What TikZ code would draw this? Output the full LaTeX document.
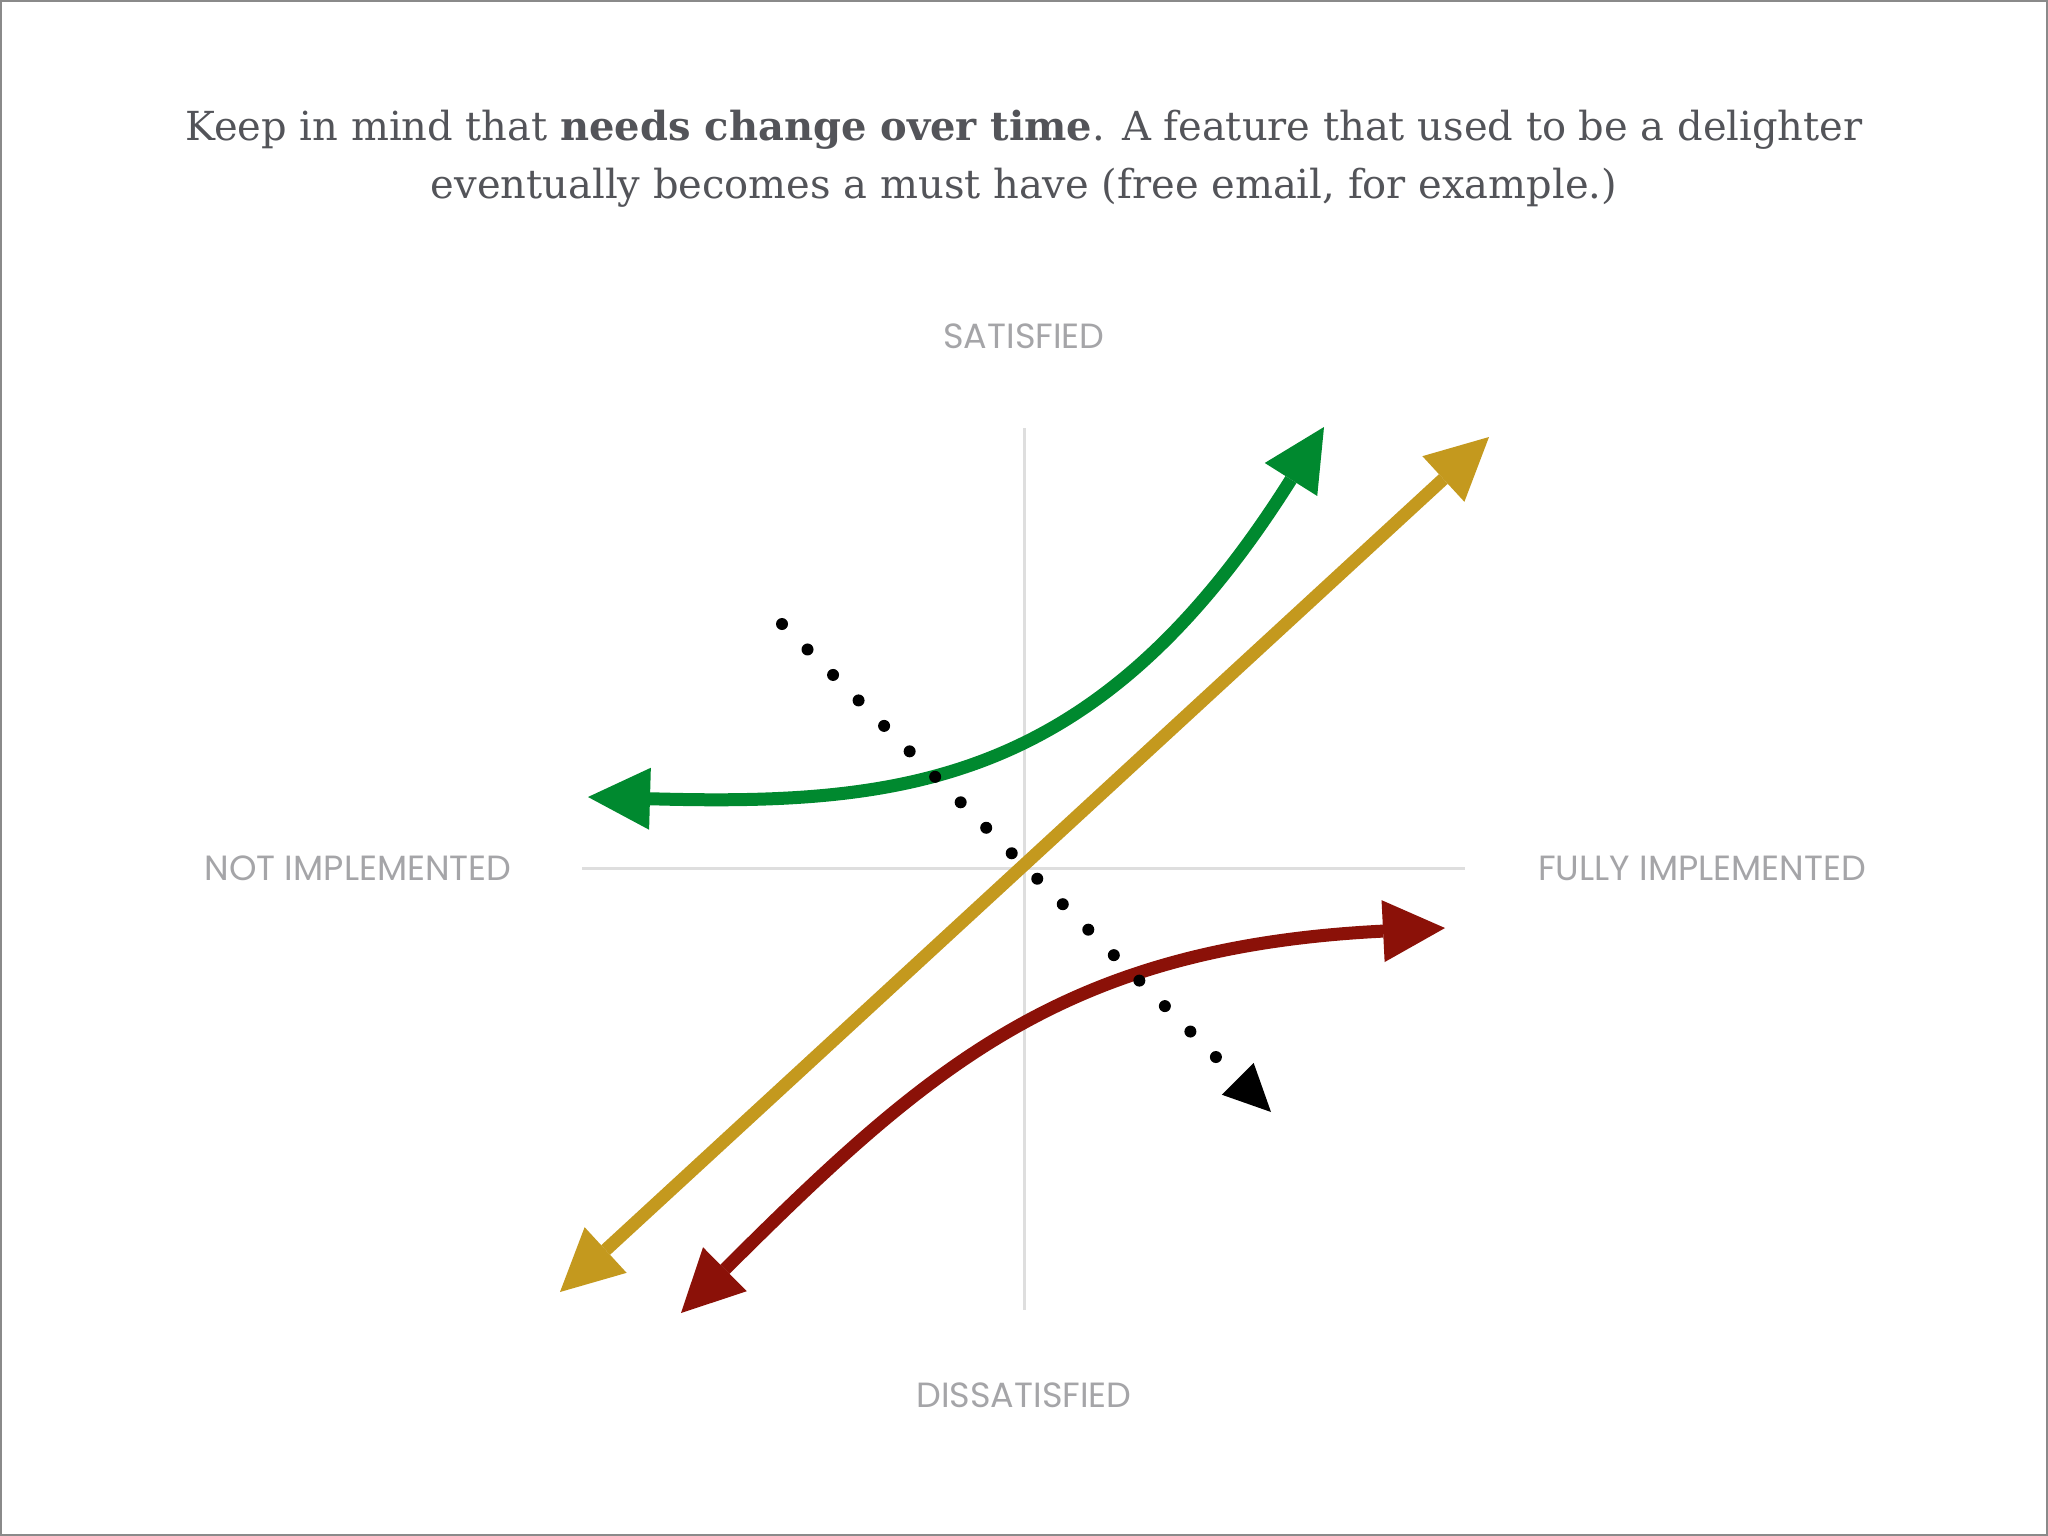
\documentclass[tikz,border=0pt]{standalone}
\usepackage{fontspec}
\usetikzlibrary{arrows.meta}
\newfontfamily\titlefont{DejaVu Serif}
\newfontfamily\labelfont{Poppins}
\definecolor{titlegray}{HTML}{535459}
\definecolor{labelgray}{HTML}{A5A5A8}
\definecolor{axisgray}{HTML}{DEDEDE}
\definecolor{framegray}{HTML}{8A8A8A}
\definecolor{kgreen}{HTML}{00892F}
\definecolor{kgold}{HTML}{C4991E}
\definecolor{kred}{HTML}{8B1108}
\tikzset{
  bighead/.tip={Triangle[length=62pt,width=62pt,line width=0pt]},
  dothead/.tip={Triangle[length=47pt,width=45pt,line width=0pt]},
}
\begin{document}
\begin{tikzpicture}[x=1pt,y=-1pt,
  axisline/.style={draw=axisgray, line width=3pt},
  axislabel/.style={font=\labelfont\fontsize{35}{40}\selectfont, text=labelgray, inner sep=0pt},
  titletext/.style={font=\titlefont\fontsize{40}{48}\selectfont, text=titlegray, inner sep=0pt, anchor=base},
  bigarrow/.style={line width=13pt, bighead-bighead},
  dotpath/.style={line width=12pt, line cap=round, dash pattern=on 0pt off 36.06pt, -dothead},
]
\useasboundingbox (0,0) rectangle (2048,1536);
\fill[white] (0,0) rectangle (2048,1536);
\draw[framegray, line width=2pt] (1,1) rectangle (2047,1535);

% title
\node[titletext] (title1) at (1024,141) {Keep in mind that \textbf{needs change over time}. A feature that used to be a delighter};
\node[titletext] (title2) at (1024,198.5) {eventually becomes a must have (free email, for example.)};

% axes
\coordinate (vtop) at (1024,428);
\coordinate (vbot) at (1024,1310);
\coordinate (hleft) at (582,868.5);
\coordinate (hright) at (1465,868.5);
\draw[axisline] (vtop) -- (vbot);
\draw[axisline] (hleft) -- (hright);

% axis labels
\node[axislabel] (sat) at (1024,336) {SATISFIED};
\node[axislabel] (dissat) at (1024,1395) {DISSATISFIED};
\node[axislabel] (notimpl) at (358,868) {NOT IMPLEMENTED};
\node[axislabel] (fullimpl) at (1702,868) {FULLY IMPLEMENTED};

% tips
\coordinate (gL) at (588,797);
\coordinate (gT) at (1324,427);
\coordinate (yL) at (560,1292);
\coordinate (yT) at (1489,437);
\coordinate (rL) at (681,1313);
\coordinate (rR) at (1445,928);
\coordinate (dS) at (782,624);
\coordinate (dE) at (1271,1112);

% gold (straight)
\draw[bigarrow, kgold] (yL) -- (yT);
% red (dissatisfier)
\draw[bigarrow, kred] (rL) .. controls (930,1065) and (1065,947) .. (rR);
% green (delighter)
\draw[bigarrow, kgreen] (gL) .. controls (908,806) and (1100,783) .. (gT);
% dotted change over time
\draw[dotpath, black] (dS) -- (dE);
\end{tikzpicture}
\end{document}
